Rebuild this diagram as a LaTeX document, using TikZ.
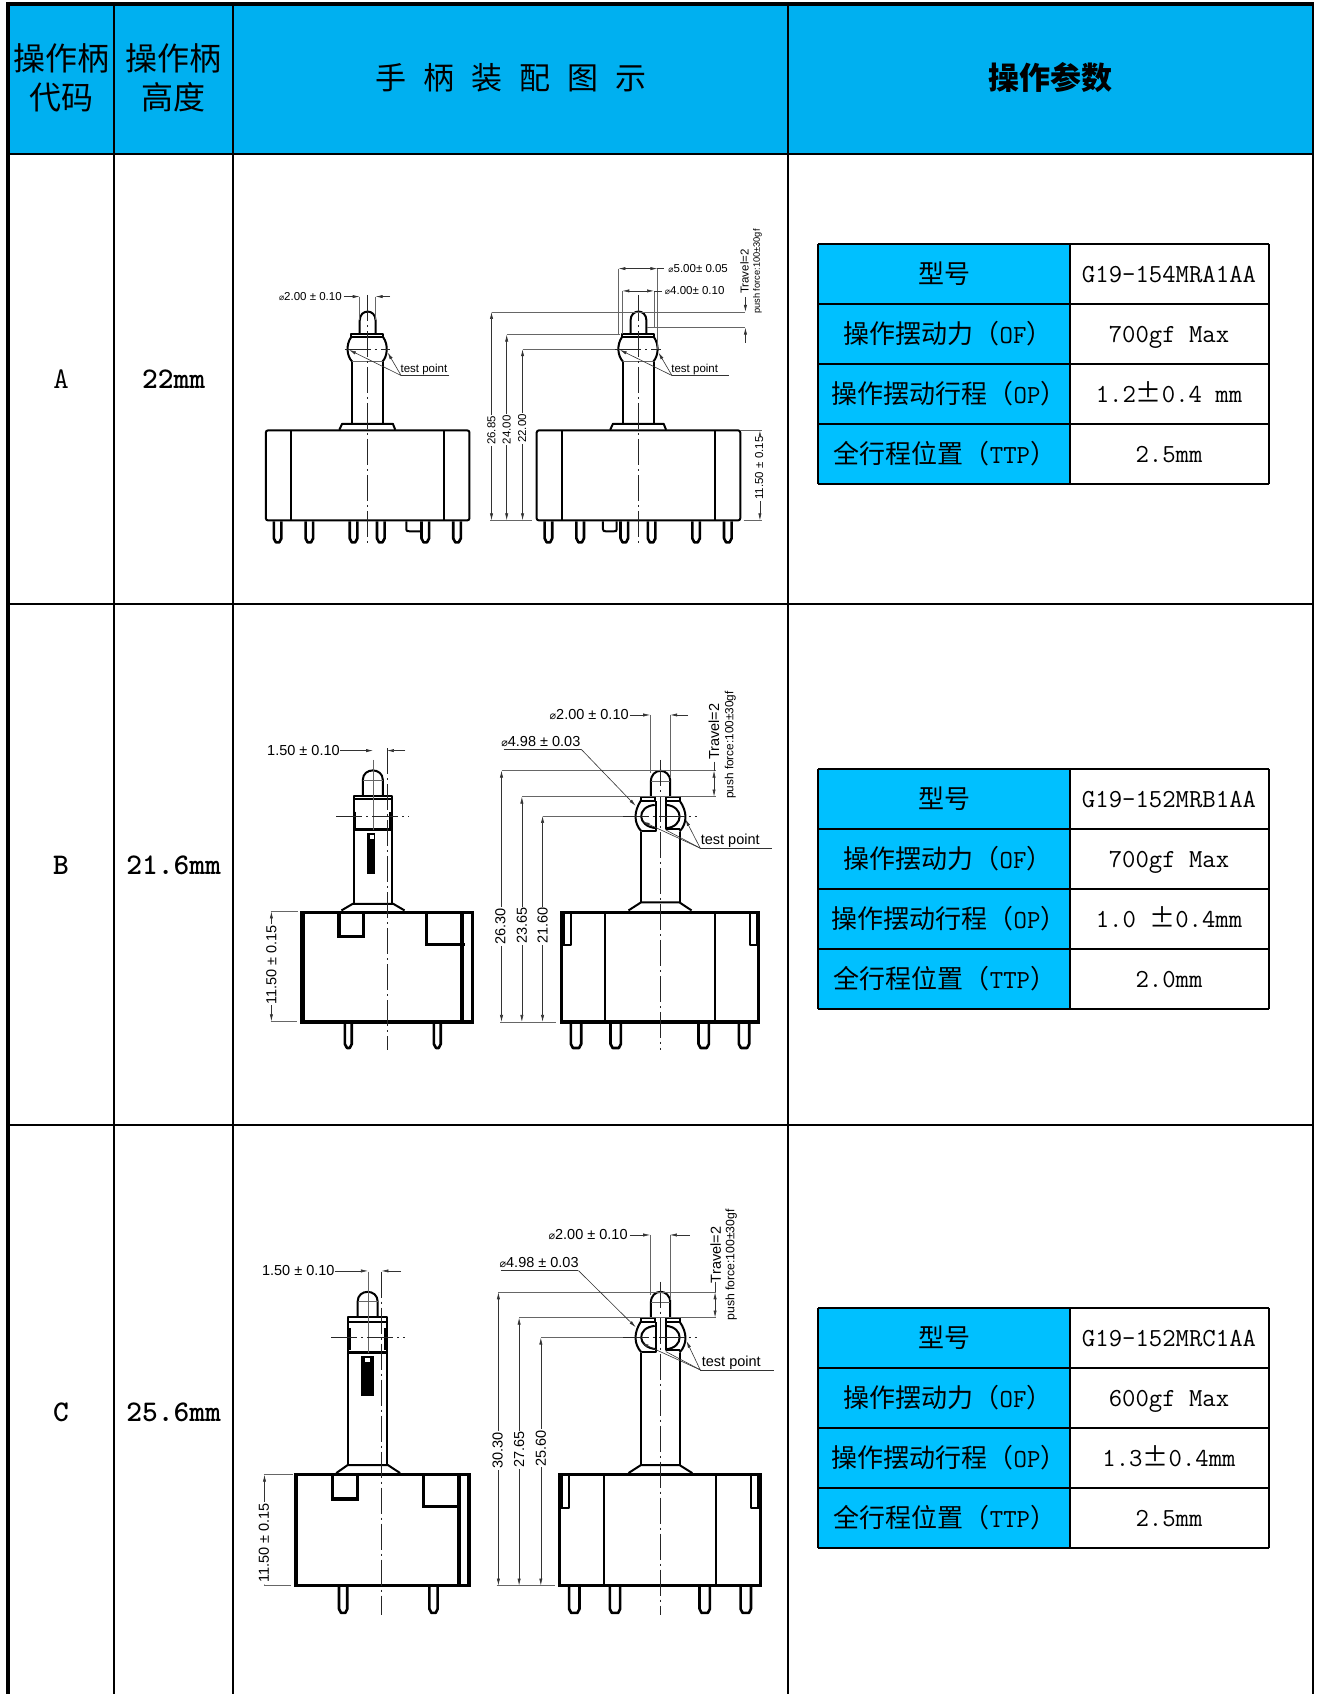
\documentclass[tikz,border=0pt]{standalone}
\usepackage{fontspec}
\setmainfont{Noto Sans CJK SC}
\newfontfamily\dimfont{Liberation Sans}
\newfontfamily\symfont{DejaVu Sans}
\usetikzlibrary{arrows.meta}
\definecolor{headblue}{HTML}{00B0F0}
\definecolor{labelblue}{HTML}{00C0FF}
\newcommand{\dia}{\scalebox{0.75}{\symfont ⌀}}

% One pin: x, top y, bottom y, half width
\newcommand{\pinrow}[4]{
  \foreach \xpos in {#1}
  {
    \draw[pinline] (\xpos-#4,#2) -- (\xpos-#4,#3-12) -- (\xpos-#4+6,#3) -- (\xpos+#4-6,#3) -- (\xpos+#4,#3-12) -- (\xpos+#4,#2);
  };
}

% Parameter table: row, top y, model, OF, OP, TTP
\newcommand{\paramtable}[6]{
  \fill[labelblue] (818,#2) rectangle (1070,#2+240);
  \foreach \ypos in {0,60,120,180,240}
  {
    \draw[cell] (818,#2+\ypos) -- (1269,#2+\ypos);
  };
  \draw[cell] (818,#2) -- (818,#2+240);
  \draw[cell] (1070,#2) -- (1070,#2+240);
  \draw[cell] (1269,#2) -- (1269,#2+240);
  \node[labeltext] (model#1) at (944,#2+30) {型号};
  \node[labeltext] (force#1) at (948,#2+90) {操作摆动力（{\ttfamily OF}）};
  \node[labeltext] (stroke#1) at (949,#2+150) {操作摆动行程（{\ttfamily OP}）};
  \node[labeltext] (travel#1) at (945,#2+210) {全行程位置（{\ttfamily TTP}）};
  \node[valuetext] (modelval#1) at (1169,#2+30) {#3};
  \node[valuetext] (forceval#1) at (1169,#2+90) {#4};
  \node[valuetext] (strokeval#1) at (1169,#2+150) {#5};
  \node[valuetext] (travelval#1) at (1169,#2+210) {#6};
}

% Housing and handle of row A
\newcommand{\partA}{
  \draw[partline,rounded corners=2pt] (75,932) -- (75,662) -- (665,662) -- (665,932) -- cycle;
  \draw[partline] (147,662) -- (147,932);
  \draw[partline] (591,662) -- (591,932);
  \draw[partline] (288,660) -- (296,642) -- (443,642) -- (450,660);
  \draw[partline] (324,642) -- (324,455);
  \draw[partline] (415,642) -- (415,455);
  \draw[partline] (322,372) rectangle (415,382);
  \draw[partline] (322,382) .. controls (306,405) and (310,440) .. (325,455);
  \draw[partline] (415,382) .. controls (431,405) and (427,440) .. (413,455);
  \draw[thinline] (325,455) -- (413,455);
  \draw[partline] (347,372) -- (347,332) .. controls (347,296) and (393,296) .. (393,332) -- (393,372);
  \pinrow{109,201,329,408,537,629}{935}{998}{11}
  \draw[centerline] (370,255) -- (370,1002);
  \draw[centerline] (303,418) -- (435,418);
}

% Split head of rows B and C
\newcommand{\headright}{
  \draw[partline] (1162,350) -- (1162,305) .. controls (1162,262) and (1218,262) .. (1218,305) -- (1218,350);
  \draw[thinline] (1162,305) -- (1218,305);
  \draw[partline] (1133,350) rectangle (1173,362);
  \draw[partline] (1207,350) rectangle (1245,362);
  \draw[partline] (1133,362) .. controls (1112,395) and (1112,430) .. (1135,455);
  \draw[partline] (1245,362) .. controls (1268,395) and (1268,430) .. (1245,455);
  \draw[partline] (1173,375) .. controls (1120,380) and (1120,440) .. (1178,445);
  \draw[partline] (1207,375) .. controls (1258,380) and (1258,440) .. (1207,445);
  \draw[partline] (1135,453) -- (1178,453) -- (1178,362);
  \draw[partline] (1207,362) -- (1207,447) -- (1245,447);
}

\begin{document}
\begin{tikzpicture}[x=1pt,y=-1pt,>={Latex[length=7pt,width=3.2pt]},
    cell/.style={line width=1.5pt,black},
    frame/.style={line width=3.5pt,black},
    headtext/.style={font=\fontsize{32}{39}\selectfont,align=center},
    labeltext/.style={font=\fontsize{26}{26}\selectfont},
    valuetext/.style={font=\fontsize{26}{26}\selectfont\ttfamily,text height=16pt,text depth=0pt},
    rowtext/.style={font=\fontsize{30}{30}\selectfont\ttfamily},
    rowbold/.style={font=\fontsize{30}{30}\selectfont\ttfamily\bfseries},
    partline/.style={line width=2pt,line join=round},
    pinline/.style={line width=2.6pt,line join=round},
    heavy/.style={line width=3.2pt,line join=miter},
    thinline/.style={line width=0.6pt,black!60},
    dimline/.style={line width=0.6pt,black!80},
    centerline/.style={line width=0.6pt,black!85,dash pattern=on 26pt off 4pt on 2pt off 4pt},
    dimtext/.style={font=\dimfont\fontsize{11.5}{11.5}\selectfont,inner sep=1pt},
    dimvert/.style={dimtext,rotate=90,fill=white},
    dimbig/.style={font=\dimfont\fontsize{14.5}{14.5}\selectfont,inner sep=1pt},
    dimbigvert/.style={dimbig,rotate=90,fill=white},
  ]
  \useasboundingbox (0,0) rectangle (1318,1694);
  \fill[white] (0,0) rectangle (1318,1694);

  % Table
  \fill[headblue] (8,3) rectangle (1313,154);
  \draw[cell] (8,154) -- (1313,154);
  \draw[cell] (8,604) -- (1313,604);
  \draw[cell] (8,1125) -- (1313,1125);
  \foreach \xpos in {114,233,788}
  {
    \draw[cell] (\xpos,3) -- (\xpos,1694);
  };
  \draw[line width=2pt] (1312.7,3) -- (1312.7,1694);
  \draw[frame] (6,4) -- (1313.7,4);
  \draw[frame] (8.2,2) -- (8.2,1694);

  % Header
  \node[headtext] (codehead) at (61,78) {操作柄\\代码};
  \node[headtext] (heighthead) at (173.5,78) {操作柄\\高度};
  \node[headtext,font=\fontsize{31}{39}\selectfont] (drawinghead) at (511,78) {\spaceskip=17pt 手 柄 装 配 图 示};
  \node[headtext,font=\fontsize{31}{39}\selectfont\bfseries] (paramhead) at (1050,78) {操作参数};

  % Row labels
  \node[rowtext] (codeA) at (61,379) {A};
  \node[rowbold] (heightA) at (173.5,379) {22mm};
  \node[rowbold] (codeB) at (61,865) {B};
  \node[rowbold] (heightB) at (173.5,865) {21.6mm};
  \node[rowbold] (codeC) at (61,1412) {C};
  \node[rowbold] (heightC) at (173.5,1412) {25.6mm};

  % Parameters
  \paramtable{A}{244}{G19-154MRA1AA}{700gf Max}{1.2{\rmfamily ±}0.4 mm}{2.5mm}
  \paramtable{B}{769}{G19-152MRB1AA}{700gf Max}{1.0 {\rmfamily ±}0.4mm}{2.0mm}
  \paramtable{C}{1308}{G19-152MRC1AA}{600gf Max}{1.3{\rmfamily ±}0.4mm}{2.5mm}

  % Row A drawings
  \begin{scope}[shift={(240,210)},x=0.345pt,y=-0.333pt]
    \partA
    \begin{scope}[shift={(785,0)}]
      \partA
    \end{scope}
    \draw[partline] (482,935) -- (482,955) .. controls (482,965) and (485,965) .. (492,965) -- (522,965);
    \draw[partline] (1052,935) -- (1052,958) .. controls (1052,965) and (1055,965) .. (1062,965) -- (1083,965) .. controls (1090,965) and (1092,965) .. (1092,958) -- (1092,935);
    % Left dimensions
    \node[dimtext] (diaAl) at (204,260) {\dia 2.00 ± 0.10};
    \draw[dimline,->] (300,260) -- (347,260);
    \draw[dimline,->] (435,260) -- (393,260);
    \draw[thinline] (347,260) -- (347,330);
    \draw[thinline] (393,260) -- (393,330);
    \node[dimtext] (testAl) at (533,478) {test point};
    \draw[dimline] (607,497) -- (467,497);
    \draw[dimline,->] (467,497) -- (316,420);
    \draw[dimline,->] (467,497) -- (428,428);
    % Right dimensions
    \draw[thinline] (725,932) -- (845,932);
    \draw[thinline] (729,306) -- (1465,306);
    \draw[thinline] (773,374) -- (1100,374);
    \draw[thinline] (819,418) -- (1088,418);
    \draw[thinline] (1180,353) -- (1465,353);
    \draw[dimline,<->] (729,306) -- (729,932);
    \draw[dimline,<->] (773,374) -- (773,932);
    \draw[dimline,<->] (819,418) -- (819,932);
    \node[dimvert] (heightA1) at (729,662) {26.85};
    \node[dimvert] (heightA2) at (773,660) {24.00};
    \node[dimvert] (heightA3) at (818,656) {22.00};
    \draw[thinline] (1097,176) -- (1097,372);
    \draw[thinline] (1210,176) -- (1210,418);
    \draw[thinline] (1108,243) -- (1108,372);
    \draw[thinline] (1200,243) -- (1200,353);
    \draw[dimline,<->] (1097,176) -- (1210,176);
    \draw[dimline] (1210,176) -- (1230,176);
    \draw[dimline,<->] (1108,243) -- (1200,243);
    \draw[dimline] (1200,243) -- (1222,243);
    \node[dimtext] (diaAo) at (1328,176) {\dia 5.00± 0.05};
    \node[dimtext] (diaAi) at (1318,243) {\dia 4.00± 0.10};
    \draw[dimline,->] (1465,262) -- (1465,306);
    \draw[dimline,->] (1465,398) -- (1465,353);
    \node[dimtext,rotate=90] (travelA) at (1462,185) {Travel=2};
    \node[dimtext,rotate=90,font=\dimfont\fontsize{9.3}{9.3}\selectfont] (pushA) at (1500,185) {push force:100±30gf};
    \node[dimtext] (testAr) at (1318,478) {test point};
    \draw[dimline] (1417,497) -- (1252,497);
    \draw[dimline,->] (1252,497) -- (1101,420);
    \draw[dimline,->] (1252,497) -- (1213,428);
    \draw[thinline] (1450,662) -- (1512,662);
    \draw[thinline] (1460,932) -- (1512,932);
    \draw[dimline,<->] (1507,662) -- (1507,932);
    \node[dimvert] (housingA) at (1505,775) {11.50 ± 0.15};
  \end{scope}

  % Row B drawings
  \begin{scope}[shift={(250,680)},x=0.345pt,y=-0.333pt]
    % Left view
    \draw[heavy] (150,697) rectangle (645,1027);
    \draw[heavy,line width=4.2pt] (152,697) -- (152,1027);
    \draw[heavy] (258,700) -- (258,770) -- (328,770) -- (328,700);
    \draw[heavy] (512,700) -- (512,795) -- (622,795);
    \draw[heavy,line width=4pt] (615,700) -- (615,1027);
    \draw[partline] (265,692) -- (298,672) -- (415,672) -- (448,692);
    \draw[partline] (300,672) -- (300,350);
    \draw[partline] (412,672) -- (412,350);
    \draw[partline] (300,348) rectangle (412,358);
    \draw[heavy] (300,450) -- (412,450);
    \draw[heavy] (304,395) -- (304,445);
    \draw[heavy] (408,395) -- (408,445);
    \draw[partline] (327,348) -- (327,300) .. controls (327,262) and (385,262) .. (385,300) -- (385,348);
    \draw[thinline] (327,300) -- (385,300);
    \fill[black] (338,460) rectangle (362,583);
    \fill[white] (349,465) rectangle (360,478);
    \pinrow{285,543}{1030}{1105}{10}
    \draw[centerline] (397,205) -- (397,1110);
    \draw[thinline] (357,240) -- (357,450);
    \draw[centerline] (250,408) -- (462,408);
    \node[dimbig] (gapB) at (155,212) {1.50 ± 0.10};
    \draw[dimline,->] (262,212) -- (357,212);
    \draw[dimline,->] (450,212) -- (397,212);
    \draw[thinline] (60,695) -- (140,695);
    \draw[thinline] (60,1025) -- (135,1025);
    \draw[dimline,<->] (62,695) -- (62,1025);
    \node[dimbigvert] (housingB) at (62,855) {11.50 ± 0.15};
    % Right view
    \draw[heavy] (903,697) rectangle (1475,1027);
    \draw[heavy,line width=4pt] (907,697) -- (907,795);
    \draw[heavy,line width=4pt] (1471,697) -- (1471,795);
    \draw[partline] (1030,700) -- (1030,1027);
    \draw[partline] (1348,700) -- (1348,1027);
    \draw[partline] (930,700) -- (930,795) -- (903,795);
    \draw[partline] (1450,700) -- (1450,795) -- (1475,795);
    \draw[partline] (1097,692) -- (1133,668) -- (1245,668) -- (1280,692);
    \draw[partline] (1133,668) -- (1133,455);
    \draw[partline] (1245,668) -- (1245,455);
    \headright
    \pinrow{945,1060,1315,1432}{1030}{1105}{15}
    \draw[centerline] (1190,240) -- (1190,1110);
    \draw[centerline] (1080,408) -- (1295,408);
    \draw[thinline] (725,1027) -- (888,1027);
    \draw[thinline] (729,272) -- (1350,272);
    \draw[thinline] (788,350) -- (1350,350);
    \draw[thinline] (848,408) -- (1080,408);
    \draw[dimline,<->] (729,272) -- (729,1027);
    \draw[dimline,<->] (788,350) -- (788,1027);
    \draw[dimline,<->] (848,408) -- (848,1027);
    \node[dimbigvert] (heightB1) at (726,740) {26.30};
    \node[dimbigvert] (heightB2) at (788,738) {23.65};
    \node[dimbigvert] (heightB3) at (848,738) {21.60};
    \node[dimbig] (diaBs) at (983,105) {\dia 2.00 ± 0.10};
    \draw[dimline,->] (1100,105) -- (1160,105);
    \draw[dimline,->] (1270,105) -- (1218,105);
    \draw[thinline] (1160,105) -- (1160,280);
    \draw[thinline] (1218,105) -- (1218,295);
    \node[dimbig] (diaBh) at (843,185) {\dia 4.98 ± 0.03};
    \draw[dimline] (735,208) -- (960,208);
    \draw[dimline,->] (960,208) -- (1118,378);
    \draw[dimline] (1345,245) -- (1345,272);
    \draw[dimline,<->] (1345,272) -- (1345,350);
    \node[dimbig,rotate=90] (travelB) at (1345,155) {Travel=2};
    \node[dimtext,rotate=90,font=\dimfont\fontsize{11.8}{11.8}\selectfont] (pushB) at (1392,195) {push force:100±30gf};
    \node[dimbig] (testB) at (1392,482) {test point};
    \draw[dimline] (1512,505) -- (1305,505);
    \draw[dimline,->] (1305,505) -- (1138,425);
    \draw[dimline,->] (1305,505) -- (1262,418);
    \draw[dimline] (1305,505) -- (1205,450);
  \end{scope}

  % Row C drawings
  \begin{scope}[shift={(250,1200)},x=0.345pt,y=-0.333pt]
    % Left view
    \draw[heavy] (132,825) rectangle (635,1158);
    \draw[heavy,line width=4.2pt] (134,825) -- (134,1158);
    \draw[heavy] (240,830) -- (240,898) -- (312,898) -- (312,830);
    \draw[heavy] (502,830) -- (502,920) -- (610,920);
    \draw[heavy,line width=4.2pt] (605,830) -- (605,1158);
    \draw[partline] (250,820) -- (283,796) -- (400,796) -- (435,820);
    \draw[partline] (284,796) -- (284,352);
    \draw[partline] (398,796) -- (398,352);
    \draw[partline] (284,352) rectangle (398,365);
    \draw[heavy] (284,458) -- (398,458);
    \draw[heavy] (288,385) -- (288,450);
    \draw[heavy] (394,385) -- (394,450);
    \draw[partline] (312,352) -- (312,305) .. controls (312,266) and (370,266) .. (370,305) -- (370,352);
    \draw[thinline] (312,305) -- (370,305);
    \fill[black] (323,468) rectangle (360,590);
    \fill[white] (334,473) rectangle (348,486);
    \pinrow{270,532}{1162}{1240}{12}
    \draw[centerline] (381,215) -- (381,1245);
    \draw[thinline] (342,215) -- (342,458);
    \draw[centerline] (235,413) -- (448,413);
    \node[dimbig] (gapC) at (140,213) {1.50 ± 0.10};
    \draw[dimline,->] (245,213) -- (342,213);
    \draw[dimline,->] (438,213) -- (381,213);
    \draw[thinline] (40,825) -- (125,825);
    \draw[thinline] (40,1158) -- (118,1158);
    \draw[dimline,<->] (42,825) -- (42,1158);
    \node[dimbigvert] (housingC) at (40,1030) {11.50 ± 0.15};
    % Right view
    \draw[heavy] (897,825) rectangle (1480,1158);
    \draw[heavy,line width=4pt] (901,825) -- (901,925);
    \draw[heavy,line width=4pt] (1476,825) -- (1476,925);
    \draw[partline] (1027,828) -- (1027,1158);
    \draw[partline] (1350,828) -- (1350,1158);
    \draw[partline] (924,828) -- (924,925) -- (897,925);
    \draw[partline] (1453,828) -- (1453,925) -- (1480,925);
    \draw[partline] (1097,820) -- (1133,796) -- (1245,796) -- (1282,820);
    \draw[partline] (1133,796) -- (1133,458);
    \draw[partline] (1245,796) -- (1245,458);
    \begin{scope}[shift={(0,3)}]
      \headright
    \end{scope}
    \pinrow{940,1058,1318,1437}{1162}{1240}{15}
    \draw[centerline] (1188,245) -- (1188,1245);
    \draw[centerline] (1080,413) -- (1295,413);
    \draw[thinline] (715,1158) -- (885,1158);
    \draw[thinline] (720,277) -- (1350,277);
    \draw[thinline] (780,353) -- (1350,353);
    \draw[thinline] (843,413) -- (1080,413);
    \draw[dimline,<->] (720,277) -- (720,1158);
    \draw[dimline,<->] (780,353) -- (780,1158);
    \draw[dimline,<->] (843,413) -- (843,1158);
    \node[dimbigvert] (heightC1) at (718,752) {30.30};
    \node[dimbigvert] (heightC2) at (780,750) {27.65};
    \node[dimbigvert] (heightC3) at (843,745) {25.60};
    \node[dimbig] (diaCs) at (980,105) {\dia 2.00 ± 0.10};
    \draw[dimline,->] (1100,105) -- (1160,105);
    \draw[dimline,->] (1275,105) -- (1217,105);
    \draw[thinline] (1160,105) -- (1160,285);
    \draw[thinline] (1217,105) -- (1217,300);
    \node[dimbig] (diaCh) at (838,187) {\dia 4.98 ± 0.03};
    \draw[dimline] (727,212) -- (952,212);
    \draw[dimline,->] (952,212) -- (1118,382);
    \draw[dimline] (1350,245) -- (1350,277);
    \draw[dimline,<->] (1348,277) -- (1348,353);
    \node[dimbig,rotate=90] (travelC) at (1350,165) {Travel=2};
    \node[dimtext,rotate=90,font=\dimfont\fontsize{12.2}{12.2}\selectfont] (pushC) at (1395,195) {push force:100±30gf};
    \node[dimbig] (testC) at (1395,488) {test point};
    \draw[dimline] (1518,510) -- (1305,510);
    \draw[dimline,->] (1305,510) -- (1135,430);
    \draw[dimline,->] (1305,510) -- (1265,423);
    \draw[dimline] (1305,510) -- (1205,455);
  \end{scope}
\end{tikzpicture}
\end{document}
